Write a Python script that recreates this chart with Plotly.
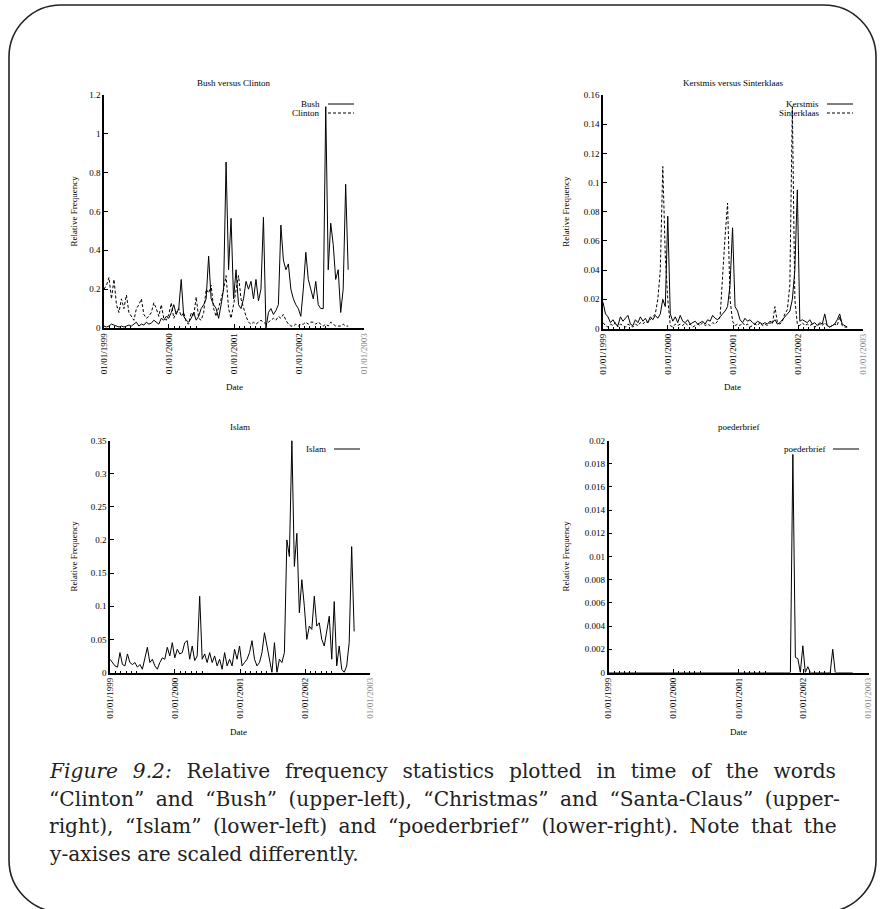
import pandas as pd
import plotly.graph_objects as go

W, H = 885, 909

# ---------------- data (bi-weekly samples, 1999-01-01 .. 2002-10-05) ----------------
DATES = pd.date_range("1999-01-01", periods=99, freq="14D")

BUSH = [0.01, 0.005, 0.01, 0.02, 0.015, 0.01, 0.005, 0.01, 0.005, 0.01, 0.015, 0.01, 0.02,
        0.03, 0.01, 0.02, 0.015, 0.03, 0.02, 0.025, 0.04, 0.03, 0.02, 0.05, 0.04, 0.06,
        0.05, 0.08, 0.12, 0.07, 0.1, 0.25, 0.06, 0.04, 0.03, 0.05, 0.08, 0.04, 0.06, 0.1,
        0.12, 0.15, 0.37, 0.15, 0.12, 0.1, 0.05, 0.12, 0.2, 0.855, 0.3, 0.565, 0.15,
        0.3, 0.12, 0.1, 0.15, 0.24, 0.2, 0.24, 0.15, 0.25, 0.14, 0.2, 0.57, 0.0,
        0.08, 0.1, 0.07, 0.09, 0.12, 0.53, 0.35, 0.3, 0.33, 0.2, 0.15, 0.12, 0.1,
        0.06, 0.2, 0.39, 0.25, 0.2, 0.15, 0.24, 0.12, 0.1, 0.1, 1.14, 0.3, 0.54,
        0.43, 0.25, 0.3, 0.08, 0.2, 0.74, 0.3]

CLINTON = [0.2, 0.22, 0.26, 0.15, 0.25, 0.12, 0.08, 0.15, 0.1, 0.17, 0.08, 0.06, 0.04,
           0.1, 0.12, 0.15, 0.07, 0.05, 0.06, 0.08, 0.13, 0.1, 0.06, 0.12, 0.05, 0.04,
           0.07, 0.13, 0.05, 0.08, 0.1, 0.06, 0.08, 0.03, 0.02, 0.08, 0.06, 0.16, 0.05,
           0.04, 0.08, 0.2, 0.18, 0.22, 0.1, 0.06, 0.1, 0.15, 0.2, 0.27, 0.1, 0.05,
           0.12, 0.2, 0.27, 0.15, 0.1, 0.06, 0.03, 0.02, 0.03, 0.02, 0.03, 0.04, 0.03,
           0.02, 0.03, 0.04, 0.05, 0.04, 0.06, 0.05, 0.07, 0.04, 0.02, 0.01, 0.01, 0.02,
           0.01, 0.02, 0.02, 0.03, 0.02, 0.03, 0.03, 0.02, 0.03, 0.02, 0.01, 0.02, 0.01,
           0.03, 0.02, 0.01, 0.01, 0.01, 0.02, 0.01, 0.01]

KERSTMIS = [0.018, 0.01, 0.008, 0.004, 0.006, 0.003, 0.002, 0.008, 0.005, 0.007, 0.009, 0.003, 0.002,
            0.006, 0.004, 0.008, 0.005, 0.007, 0.004, 0.008, 0.006, 0.009, 0.007, 0.01, 0.02, 0.015,
            0.077, 0.01, 0.005, 0.008, 0.004, 0.009, 0.005, 0.004, 0.006, 0.003, 0.004, 0.005, 0.003,
            0.004, 0.005, 0.003, 0.006, 0.005, 0.009, 0.007, 0.006, 0.008, 0.01, 0.012, 0.015, 0.03,
            0.069, 0.015, 0.012, 0.006, 0.004, 0.007, 0.005, 0.006, 0.004, 0.003, 0.005, 0.004, 0.003,
            0.004, 0.003, 0.005, 0.004, 0.006, 0.003, 0.004, 0.006, 0.008, 0.01, 0.012, 0.02, 0.04,
            0.095, 0.005, 0.006, 0.005, 0.004, 0.006, 0.003, 0.004, 0.002, 0.004, 0.003, 0.01, 0.002,
            0.001, 0.002, 0.003, 0.006, 0.01, 0.003, 0.002, 0.001]

SINTERKLAAS = [0.004, 0.002, 0.001, 0.003, 0.002, 0.004, 0.001, 0.003, 0.002, 0.001, 0.003, 0.002, 0.001,
               0.003, 0.002, 0.004, 0.003, 0.005, 0.004, 0.006, 0.008, 0.01, 0.02, 0.04, 0.111, 0.05,
               0.02, 0.002, 0.001, 0.003, 0.002, 0.003, 0.002, 0.004, 0.002, 0.003, 0.001, 0.002, 0.003,
               0.002, 0.004, 0.002, 0.003, 0.002, 0.004, 0.003, 0.005, 0.008, 0.04, 0.063, 0.086, 0.02,
               0.005, 0.002, 0.003, 0.002, 0.004, 0.002, 0.003, 0.001, 0.002, 0.003, 0.002, 0.004, 0.002,
               0.003, 0.002, 0.004, 0.003, 0.015, 0.004, 0.003, 0.005, 0.01, 0.013, 0.03, 0.152, 0.02,
               0.003, 0.002, 0.004, 0.002, 0.003, 0.002, 0.003, 0.001, 0.002, 0.003, 0.002, 0.004, 0.002,
               0.001, 0.002, 0.003, 0.002, 0.008, 0.002, 0.001, 0.001]

ISLAM = [0.02, 0.015, 0.01, 0.008, 0.03, 0.012, 0.01, 0.028, 0.015, 0.012, 0.015, 0.008, 0.012,
         0.005, 0.022, 0.038, 0.015, 0.02, 0.01, 0.005, 0.015, 0.022, 0.02, 0.038, 0.025, 0.045,
         0.022, 0.035, 0.028, 0.03, 0.045, 0.048, 0.02, 0.04, 0.018, 0.025, 0.115, 0.02, 0.028,
         0.015, 0.03, 0.015, 0.025, 0.01, 0.02, 0.005, 0.03, 0.01, 0.02, 0.01, 0.035, 0.02,
         0.04, 0.01, 0.015, 0.02, 0.03, 0.048, 0.02, 0.01, 0.015, 0.03, 0.06, 0.04, 0.02,
         0.0, 0.045, 0.0, 0.02, 0.015, 0.03, 0.2, 0.175, 0.35, 0.16, 0.21, 0.09, 0.14,
         0.1, 0.05, 0.07, 0.065, 0.115, 0.07, 0.075, 0.05, 0.04, 0.065, 0.085, 0.02, 0.107,
         0.01, 0.04, 0.005, 0.0, 0.01, 0.045, 0.19, 0.062]

POEDERBRIEF = [0, 0, 0, 0, 0, 0, 0, 0, 0, 0, 0, 0, 0,
               0, 0, 0, 0, 0, 0, 0, 0, 0, 0, 0, 0, 0,
               0, 0, 0, 0, 0, 0, 0, 0, 0, 0, 0, 0, 0,
               0, 0, 0, 0, 0, 0, 0, 0, 0, 0, 0, 0, 0,
               0, 0, 0, 0, 0, 0, 0, 0, 0, 0, 0, 0, 0,
               0, 0, 0, 0, 0, 0, 0, 0, 0, 0.0188, 0.0013, 0.0012, 0,
               0.0023, 0, 0.0005, 0, 0, 0, 0, 0, 0, 0, 0, 0, 0.002,
               0, 0, 0, 0, 0, 0, 0, 0]

YEAR_TICKS = ["1999-01-01", "2000-01-01", "2001-01-01", "2002-01-01", "2003-01-01"]
YEAR_LABELS = ["01/01/1999", "01/01/2000", "01/01/2001", "01/01/2002",
               '<span style="color:#8a8a8a">01/01/2003</span>']
MINOR_TICKS = [f"{y}-{m:02d}-01" for y in (1999, 2000, 2001, 2002) for m in (2, 3, 4, 5, 6)]

Y1_TICKS = [0, 0.2, 0.4, 0.6, 0.8, 1.0, 1.2]
Y1_LABELS = ["0", "0.2", "0.4", "0.6", "0.8", "1", "1.2"]
Y2_TICKS = [0, 0.02, 0.04, 0.06, 0.08, 0.1, 0.12, 0.14, 0.16]
Y2_LABELS = ["0", "0.02", "0.04", "0.06", "0.08", "0.1", "0.12", "0.14", "0.16"]
Y3_TICKS = [0, 0.05, 0.1, 0.15, 0.2, 0.25, 0.3, 0.35]
Y3_LABELS = ["0", "0.05", "0.1", "0.15", "0.2", "0.25", "0.3", "0.35"]
Y4_TICKS = [0, 0.002, 0.004, 0.006, 0.008, 0.01, 0.012, 0.014, 0.016, 0.018, 0.02]
Y4_LABELS = ["0", "0.002", "0.004", "0.006", "0.008", "0.01", "0.012", "0.014", "0.016", "0.018", "0.02"]

for arr in (BUSH, CLINTON, KERSTMIS, SINTERKLAAS, ISLAM, POEDERBRIEF):
    assert len(arr) == len(DATES), len(arr)


# ---------------- layout helpers (page pixels -> paper fractions) ----------------
def fx(p):
    return p / W


def fy(p):
    return 1 - p / H


FONT = "Liberation Serif"
panels = [
    dict(n="", x0=104, x1=364, yt=95, yb=328, ymax=1.2, ticks=Y1_TICKS, labels=Y1_LABELS,
         title="Bush versus Clinton", tx=234, ty=83, ylx=73, dx=234, dy=387,
         series=[("Bush", BUSH, "solid"), ("Clinton", CLINTON, "3px,2px")],
         leg_x=322, leg_y=104),
    dict(n="2", x0=603, x1=863, yt=95, yb=328.5, ymax=0.16, ticks=Y2_TICKS, labels=Y2_LABELS,
         title="Kerstmis versus Sinterklaas", tx=733, ty=83, ylx=566, dx=732, dy=387,
         series=[("Kerstmis", KERSTMIS, "solid"), ("Sinterklaas", SINTERKLAAS, "3px,2px")],
         leg_x=821, leg_y=104),
    dict(n="3", x0=110, x1=370, yt=440.5, yb=672.5, ymax=0.35, ticks=Y3_TICKS, labels=Y3_LABELS,
         title="Islam", tx=240, ty=427, ylx=73, dx=238, dy=732,
         series=[("Islam", ISLAM, "solid")], leg_x=328, leg_y=449),
    dict(n="4", x0=608.5, x1=868.5, yt=440.5, yb=672.5, ymax=0.02, ticks=Y4_TICKS, labels=Y4_LABELS,
         title="poederbrief", tx=738, ty=427, ylx=565, dx=738, dy=732,
         series=[("poederbrief", POEDERBRIEF, "solid")], leg_x=827, leg_y=449),
]

fig = go.Figure()
annotations = []
shapes = []

for p in panels:
    n = p["n"]
    xa, ya = "x" + n, "y" + n
    for name, vals, dash in p["series"]:
        fig.add_trace(go.Scatter(x=DATES, y=vals, mode="lines", name=name, xaxis=xa, yaxis=ya,
                                 line=dict(color="black", width=1, dash=dash), showlegend=False))
    fig.layout["xaxis" + n] = dict(
        domain=[fx(p["x0"]), fx(p["x1"])], anchor=ya, type="date",
        range=["1999-01-01", "2003-01-01"], tickmode="array", tickvals=YEAR_TICKS,
        ticktext=YEAR_LABELS, tickangle=-90, ticks="inside", ticklen=4, tickwidth=1,
        tickcolor="black", showline=True, linewidth=1.5, linecolor="black",
        showgrid=False, zeroline=False, tickfont=dict(family=FONT, size=9, color="black"),
        minor=dict(tickmode="array", tickvals=MINOR_TICKS, ticks="inside", ticklen=2,
                   tickwidth=1, tickcolor="black", showgrid=False),
        automargin=False, fixedrange=True)
    fig.layout["yaxis" + n] = dict(
        domain=[fy(p["yb"]), fy(p["yt"])], anchor=xa, range=[0, p["ymax"]],
        tickmode="array", tickvals=p["ticks"], ticktext=p["labels"], ticks="inside",
        ticklen=4, tickwidth=1, tickcolor="black", showline=True, linewidth=1.5,
        linecolor="black", showgrid=False, zeroline=False,
        tickfont=dict(family=FONT, size=9, color="black"), automargin=False, fixedrange=True)

    annotations.append(dict(text=p["title"], x=fx(p["tx"]), y=fy(p["ty"]), xref="paper", yref="paper",
                            showarrow=False, xanchor="center", yanchor="middle",
                            font=dict(family=FONT, size=9, color="black")))
    annotations.append(dict(text="Date", x=fx(p["dx"]), y=fy(p["dy"]), xref="paper", yref="paper",
                            showarrow=False, xanchor="center", yanchor="middle",
                            font=dict(family=FONT, size=9, color="black")))
    annotations.append(dict(text="Relative Frequency", x=fx(p["ylx"]), y=fy((p["yt"] + p["yb"]) / 2),
                            xref="paper", yref="paper", showarrow=False, textangle=-90,
                            xanchor="center", yanchor="middle",
                            font=dict(family=FONT, size=9, color="black")))
    for i, (name, vals, dash) in enumerate(p["series"]):
        yy = p["leg_y"] + 9 * i
        annotations.append(dict(text=name, x=fx(p["leg_x"]), y=fy(yy), xref="paper", yref="paper",
                                showarrow=False, xanchor="right", yanchor="middle",
                                font=dict(family=FONT, size=9, color="black")))
        shapes.append(dict(type="line", xref="paper", yref="paper",
                           x0=fx(p["leg_x"] + 6), x1=fx(p["leg_x"] + 32), y0=fy(yy), y1=fy(yy),
                           line=dict(color="black", width=1, dash=dash)))

# ---------------- caption (justified with extra unicode spaces) ----------------
CAPTION = [
    "<i>Figure 9.2:</i> Relative frequency statistics plotted in time of the words",
    "“Clinton” and “Bush” (upper-left), “Christmas” and “Santa-Claus” (upper-",
    "right), “Islam” (lower-left) and “poederbrief” (lower-right). Note that the",
    "y-axises are scaled differently.",
]
GAPS = [" \u2005\u2006", " \u2005", " \u2005", " "]
for i, line in enumerate(CAPTION):
    annotations.append(dict(text=line.replace(" ", GAPS[i]),
                            x=fx(47), y=fy(771 + 27.7 * i), xref="paper", yref="paper",
                            showarrow=False, xanchor="left", yanchor="middle",
                            font=dict(family="DejaVu Serif", size=20.2, color="#222")))

# ---------------- rounded page frame ----------------
k = 0.5523
L, R, T, B, r = 9, 876, 5, 912, 52
pts = [
    ("M", [(L, B - r)]),
    ("L", [(L, T + r)]),
    ("C", [(L, T + r - k * r), (L + r - k * r, T), (L + r, T)]),
    ("L", [(R - r, T)]),
    ("C", [(R - r + k * r, T), (R, T + r - k * r), (R, T + r)]),
    ("L", [(R, B - r)]),
    ("C", [(R, B - r + k * r), (R - r + k * r, B), (R - r, B)]),
    ("L", [(L + r, B)]),
    ("C", [(L + r - k * r, B), (L, B - r + k * r), (L, B - r)]),
]
path = " ".join(cmd + " " + " ".join(f"{fx(a):.5f},{fy(b):.5f}" for a, b in xy) for cmd, xy in pts) + " Z"
shapes.append(dict(type="path", path=path, xref="paper", yref="paper",
                   line=dict(color="#222", width=1.6)))

fig.update_layout(width=W, height=H, margin=dict(l=0, r=0, t=0, b=0), paper_bgcolor="white",
                  plot_bgcolor="white", showlegend=False, annotations=annotations, shapes=shapes)

fig.write_html("out.html")
